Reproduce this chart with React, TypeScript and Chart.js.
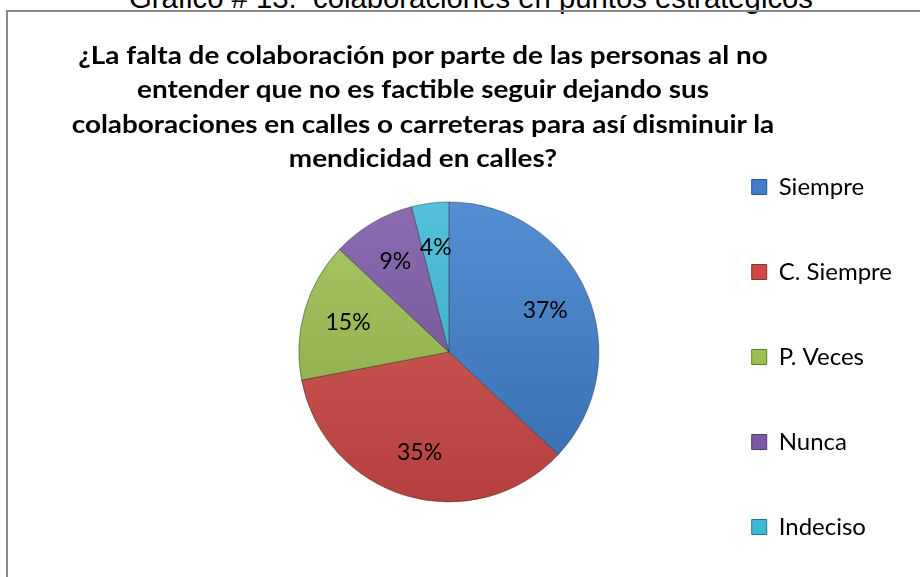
import React, { useEffect, useRef } from "react";
import { Chart, registerables } from "chart.js";

Chart.register(...registerables);

const categories = ["Siempre", "C. Siempre", "P. Veces", "Nunca", "Indeciso"];
const percentages = [37, 35, 15, 9, 4];
const sliceColors = ["#3F7FCD", "#D24A47", "#9DBF4F", "#7B58A5", "#3DB8D6"];
const titleLines = [
  "¿La falta de colaboración por parte de las personas al no",
  "entender que no es factible seguir dejando sus",
  "colaboraciones en calles o carreteras para así disminuir la",
  "mendicidad en calles?",
];
const headingText = "Gráfico # 13.  colaboraciones en puntos estratégicos";

function shade(hex: string, amt: number): string {
  const n = parseInt(hex.slice(1), 16);
  let r = (n >> 16) & 255, g = (n >> 8) & 255, b = n & 255;
  const f = (c: number) =>
    Math.round(amt >= 0 ? c + (255 - c) * amt : c * (1 + amt));
  r = f(r); g = f(g); b = f(b);
  return `rgb(${r},${g},${b})`;
}

const labelPlugin = {
  id: "sliceLabels",
  afterDatasetsDraw(chart: any) {
    const ctx = chart.ctx;
    const meta = chart.getDatasetMeta(0);
    const data = chart.data.datasets[0].data as number[];
    ctx.save();
    ctx.font = "23px Lato";
    ctx.fillStyle = "#000";
    ctx.textAlign = "center";
    ctx.textBaseline = "middle";
    meta.data.forEach((arc: any, i: number) => {
      const { x, y, startAngle, endAngle, outerRadius } = arc.getProps(
        ["x", "y", "startAngle", "endAngle", "outerRadius"],
        true
      );
      const mid = (startAngle + endAngle) / 2;
      const r = outerRadius * 0.7;
      ctx.fillText(`${data[i]}%`, x + Math.cos(mid) * r, y + Math.sin(mid) * r);
    });
    ctx.restore();
  },
};

export default function App() {
  const ref = useRef<HTMLCanvasElement>(null);

  useEffect(() => {
    if (!ref.current) return;
    const chart = new Chart(ref.current, {
      type: "pie",
      data: {
        labels: categories,
        datasets: [
          {
            data: percentages,
            backgroundColor: (c: any) => {
              const base = sliceColors[c.dataIndex % sliceColors.length];
              const area = c.chart.chartArea;
              if (!area) return base;
              const cy = (area.top + area.bottom) / 2;
              const g = c.chart.ctx.createLinearGradient(0, cy - 150, 0, cy + 150);
              g.addColorStop(0, shade(base, 0.12));
              g.addColorStop(1, shade(base, -0.14));
              return g;
            },
            borderColor: "rgba(40,40,40,0.45)",
            borderWidth: 1,
          },
        ],
      },
      options: {
        responsive: false,
        devicePixelRatio: 1,
        animation: false,
        events: [],
        radius: 150,
        layout: { padding: { top: 86, bottom: 0, left: 199, right: 18 } },
        plugins: {
          title: { display: false },
          tooltip: { enabled: false },
          legend: {
            position: "right",
            align: "center",
            title: {
              display: true,
              text: " ",
              font: { size: 10, lineHeight: 1 },
              padding: 0,
            },
            labels: {
              boxWidth: 15,
              boxHeight: 15,
              padding: 61,
              color: "#000",
              font: { family: "Lato", size: 24 },
              generateLabels: (ch: any) =>
                (ch.data.labels as string[]).map((t, i) => ({
                  text: t,
                  fillStyle: sliceColors[i],
                  strokeStyle: shade(sliceColors[i], -0.35),
                  lineWidth: 1,
                  hidden: false,
                  index: i,
                  fontColor: "#000",
                })),
            },
          },
        },
      } as any,
      plugins: [labelPlugin],
    });
    return () => chart.destroy();
  }, []);

  return (
    <div
      style={{
        position: "fixed",
        left: 0,
        top: 0,
        width: 920,
        height: 577,
        overflow: "hidden",
        background: "#fff",
      }}
    >
      <div
        style={{
          position: "absolute",
          left: 0,
          top: -19,
          width: 942,
          textAlign: "center",
          whiteSpace: "pre",
          fontFamily: '"Liberation Sans", Arial, sans-serif',
          fontSize: 29.3,
          color: "#000",
        }}
      >
        {headingText}
      </div>
      <div
        style={{
          position: "absolute",
          left: 6,
          top: 10,
          width: 1000,
          height: 1000,
          border: "2px solid #898989",
        }}
      />
      <canvas
        ref={ref}
        width={912}
        height={594}
        style={{ position: "absolute", left: 8, top: 12, display: "block" }}
      />
      <div
        style={{
          position: "absolute",
          left: 0,
          top: 36.5,
          width: 846,
          textAlign: "center",
          fontFamily: "Lato, sans-serif",
          fontWeight: 700,
          fontSize: 25,
          lineHeight: "34.5px",
          color: "#000",
          transform: "scaleX(1.115)",
          transformOrigin: "423px 0",
          whiteSpace: "nowrap",
        }}
      >
        {titleLines.map((l, i) => (
          <div key={i}>{l}</div>
        ))}
      </div>
    </div>
  );
}
